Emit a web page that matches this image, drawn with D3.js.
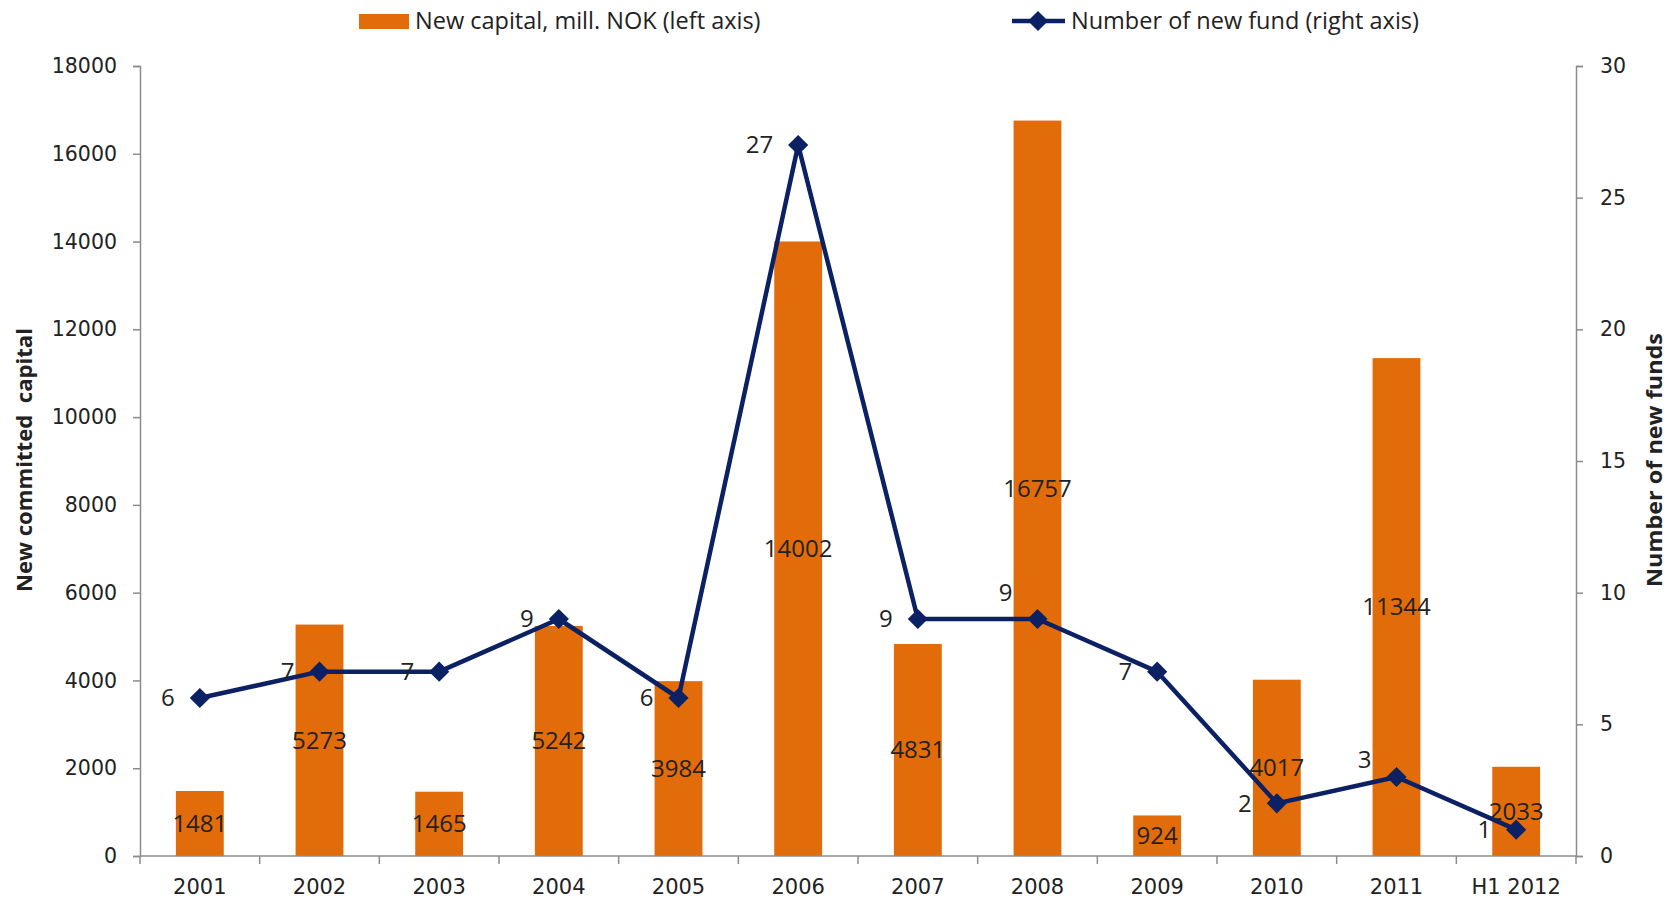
<!DOCTYPE html>
<html>
<head>
<meta charset="utf-8">
<script src="https://cdn.jsdelivr.net/npm/d3@7"></script>
<style>
  body { margin: 0; background: #fff; }
  svg text { fill: #222; }
</style>
</head>
<body>
<div id="chart"></div>
<script>
// Categories and series
const years = ["2001", "2002", "2003", "2004", "2005", "2006", "2007", "2008", "2009", "2010", "2011", "H1 2012"];
const capital = [1481, 5273, 1465, 5242, 3984, 14002, 4831, 16757, 924, 4017, 11344, 2033];
const funds = [6, 7, 7, 9, 6, 27, 9, 9, 7, 2, 3, 1];
const leftTicks = [0, 2000, 4000, 6000, 8000, 10000, 12000, 14000, 16000, 18000];
const rightTicks = [0, 5, 10, 15, 20, 25, 30];

const width = 1675, height = 905;
const margin = { top: 66, right: 99, bottom: 49, left: 140 };
const orange = "#e36c0a", navy = "#0b2163", axisGrey = "#8c8c8c";
const numFont = "DejaVu Sans", lblFont = "Open Sans";
// a couple of the point labels were moved up a little in the original
const labelNudge = { 7: -26, 10: -17 };

const svg = d3.select("#chart").append("svg")
    .attr("width", width)
    .attr("height", height);

const x = d3.scaleBand()
    .domain(years)
    .range([margin.left, width - margin.right])
    .paddingInner(0.6)
    .paddingOuter(0.3);

const xPoint = i => x(years[i]) + x.bandwidth() / 2;

const yL = d3.scaleLinear().domain([0, 18000]).range([height - margin.bottom, margin.top]);
const yR = d3.scaleLinear().domain([0, 30]).range([height - margin.bottom, margin.top]);

// Bars
svg.append("g").selectAll("rect")
    .data(capital)
    .enter().append("rect")
    .attr("x", (d, i) => x(years[i]))
    .attr("width", x.bandwidth())
    .attr("y", d => yL(d))
    .attr("height", d => yL(0) - yL(d))
    .attr("fill", orange);

// Left axis
const leftAxis = svg.append("g")
    .attr("transform", `translate(${margin.left},0)`)
    .call(d3.axisLeft(yL).tickValues(leftTicks).tickSize(7).tickPadding(16).tickFormat(d3.format("d")));

// Right axis
const rightAxis = svg.append("g")
    .attr("transform", `translate(${width - margin.right},0)`)
    .call(d3.axisRight(yR).tickValues(rightTicks).tickSize(7).tickPadding(17));

// Bottom axis: ticks sit between categories
const step = x.step();
const xAxis = svg.append("g")
    .attr("transform", `translate(0,${height - margin.bottom})`)
    .call(d3.axisBottom(x).tickSize(0).tickPadding(23));
xAxis.selectAll(".sep")
    .data(d3.range(years.length + 1))
    .enter().append("line")
    .attr("class", "sep")
    .attr("x1", i => margin.left + i * step)
    .attr("x2", i => margin.left + i * step)
    .attr("y1", 0)
    .attr("y2", 8)
    .attr("stroke", axisGrey)
    .attr("stroke-width", 1.5);

[leftAxis, rightAxis, xAxis].forEach(g => {
    g.select(".domain").attr("stroke", axisGrey).attr("stroke-width", 1.5);
    g.selectAll(".tick line").attr("stroke", axisGrey).attr("stroke-width", 1.5);
    g.selectAll(".tick text")
        .attr("font-family", numFont)
        .attr("font-size", 20.5)
        .attr("fill", "#222");
});
xAxis.selectAll(".tick text").attr("font-size", 21);
xAxis.select(".domain").attr("d", `M${margin.left},0H${width - margin.right}`);

// Bar value labels (middle of the bar)
svg.append("g").selectAll("text")
    .data(capital)
    .enter().append("text")
    .attr("x", (d, i) => xPoint(i))
    .attr("y", d => (yL(d) + yL(0)) / 2)
    .attr("dy", "0.35em")
    .attr("text-anchor", "middle")
    .attr("font-family", lblFont)
    .attr("font-size", 24)
    .text(d => d);

// Line series
const line = d3.line()
    .x((d, i) => xPoint(i))
    .y(d => yR(d));

svg.append("path")
    .datum(funds)
    .attr("d", line)
    .attr("fill", "none")
    .attr("stroke", navy)
    .attr("stroke-width", 4.5)
    .attr("stroke-linejoin", "round");

const diamond = d3.symbol().type(d3.symbolDiamond2).size(260);

svg.append("g").selectAll("path")
    .data(funds)
    .enter().append("path")
    .attr("d", diamond)
    .attr("transform", (d, i) => `translate(${xPoint(i)},${yR(d)})`)
    .attr("fill", navy);

svg.append("g").selectAll("text")
    .data(funds)
    .enter().append("text")
    .attr("x", (d, i) => xPoint(i) - 25)
    .attr("y", (d, i) => yR(d) + (labelNudge[i] || 0))
    .attr("dy", "0.35em")
    .attr("text-anchor", "end")
    .attr("font-family", lblFont)
    .attr("font-size", 24)
    .text(d => d);

// Axis titles
svg.append("text")
    .attr("transform", `translate(32,460) rotate(-90)`)
    .attr("text-anchor", "middle")
    .attr("font-family", "Open Sans")
    .attr("font-weight", "bold")
    .attr("font-size", 22)
    .attr("textLength", 264)
    .attr("lengthAdjust", "spacingAndGlyphs")
    .style("white-space", "pre")
    .text("New committed  capital");

svg.append("text")
    .attr("transform", `translate(1662,460) rotate(-90)`)
    .attr("text-anchor", "middle")
    .attr("font-family", "Open Sans")
    .attr("font-weight", "bold")
    .attr("font-size", 22)
    .attr("textLength", 254)
    .attr("lengthAdjust", "spacingAndGlyphs")
    .text("Number of new funds");

// Legend
const legend = svg.append("g").attr("font-family", lblFont).attr("font-size", 23.5);

legend.append("rect")
    .attr("x", 359).attr("y", 14)
    .attr("width", 50).attr("height", 15)
    .attr("fill", orange);
legend.append("text")
    .attr("x", 415).attr("y", 21).attr("dy", "0.35em")
    .text("New capital, mill. NOK (left axis)");

legend.append("line")
    .attr("x1", 1012).attr("x2", 1065)
    .attr("y1", 21).attr("y2", 21)
    .attr("stroke", navy).attr("stroke-width", 4.5);
legend.append("path")
    .attr("d", diamond)
    .attr("transform", "translate(1038,21)")
    .attr("fill", navy);
legend.append("text")
    .attr("x", 1071).attr("y", 21).attr("dy", "0.35em")
    .text("Number of new fund (right axis)");
</script>
</body>
</html>
